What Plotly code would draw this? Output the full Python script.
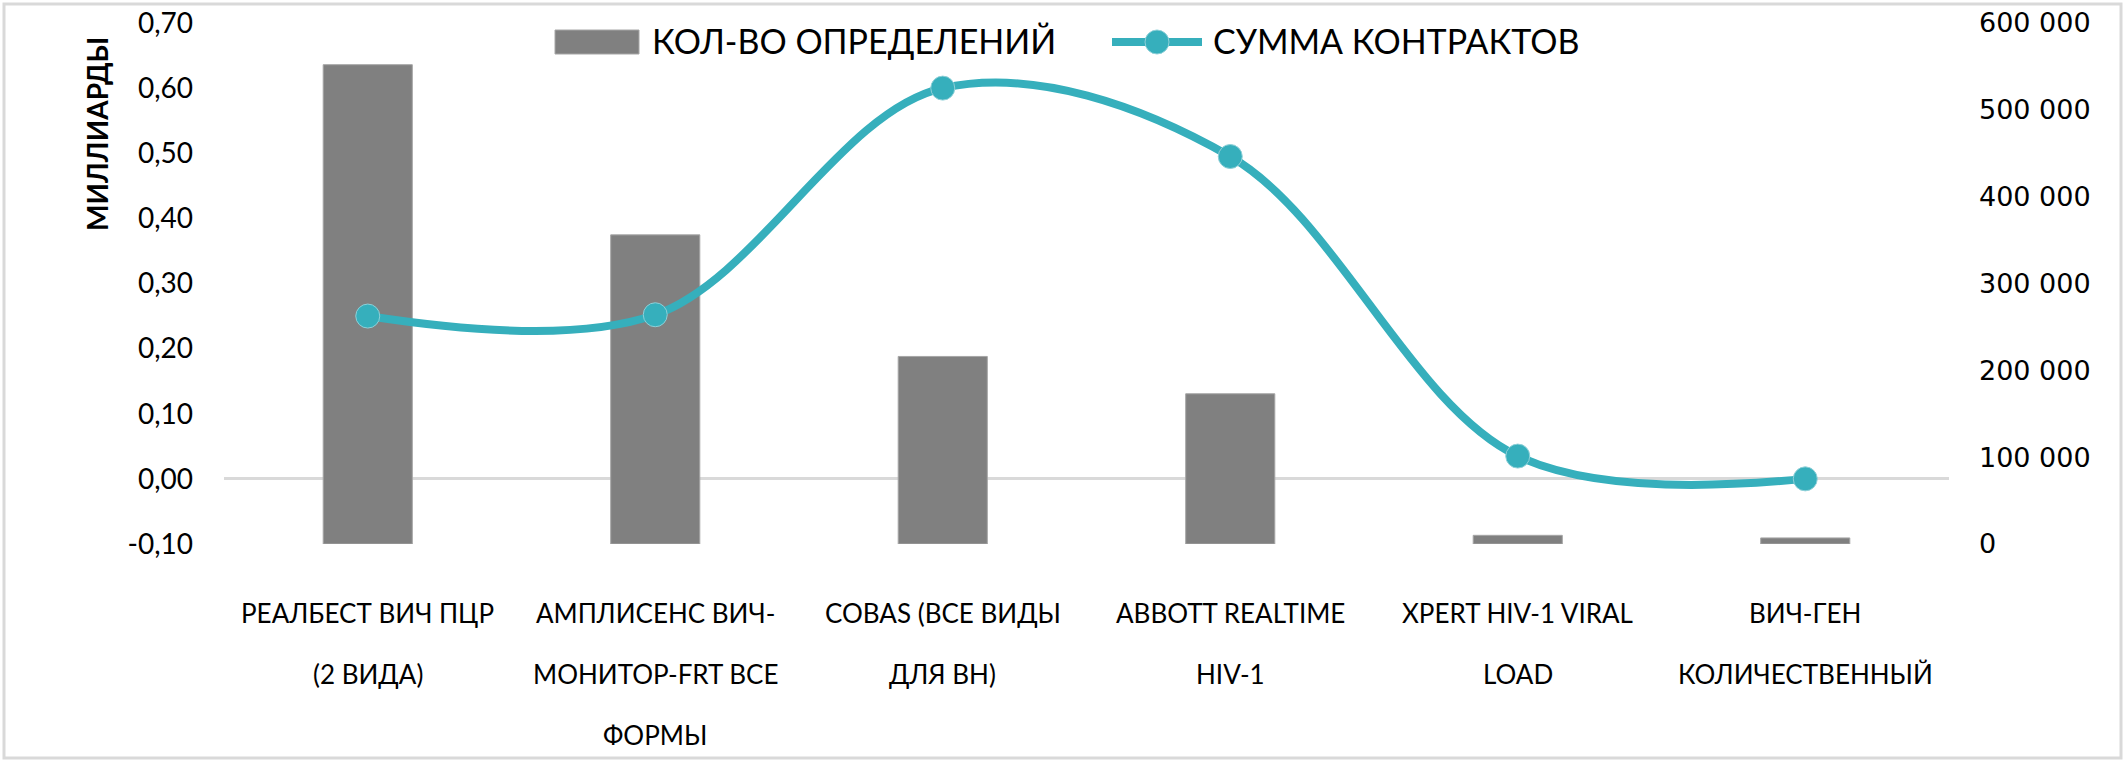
"""
Кол-во определений и сумма контрактов по тест-системам ВИЧ
столбцы - правая ось (шт.), линия - левая ось (миллиарды)
"""
import plotly.graph_objects as go

# данные
categories = [
    "РЕАЛБЕСТ ВИЧ ПЦР (2 ВИДА)",
    "АМПЛИСЕНС ВИЧ-МОНИТОР-FRT ВСЕ ФОРМЫ",
    "COBAS (ВСЕ ВИДЫ ДЛЯ ВН)",
    "ABBOTT REALTIME HIV-1",
    "XPERT HIV-1 VIRAL LOAD",
    "ВИЧ-ГЕН КОЛИЧЕСТВЕННЫЙ",
]
category_lines = [
    ["РЕАЛБЕСТ ВИЧ ПЦР", "(2 ВИДА)"],
    ["АМПЛИСЕНС ВИЧ-", "МОНИТОР-FRT ВСЕ", "ФОРМЫ"],
    ["COBAS (ВСЕ ВИДЫ", "ДЛЯ ВН)"],
    ["ABBOTT REALTIME", "HIV-1"],
    ["XPERT HIV-1 VIRAL", "LOAD"],
    ["ВИЧ-ГЕН", "КОЛИЧЕСТВЕННЫЙ"],
]
count_values = [552000, 356000, 216000, 173000, 10000, 7000]   # кол-во определений
sum_values = [0.25, 0.252, 0.60, 0.495, 0.035, 0.00]           # сумма контрактов, млрд

left_ticks = [-0.1, 0.0, 0.1, 0.2, 0.3, 0.4, 0.5, 0.6, 0.7]
left_tick_text = [("%.2f" % v).replace(".", ",") for v in left_ticks]
right_ticks = [0, 100000, 200000, 300000, 400000, 500000, 600000]
right_tick_text = ["{:,}".format(v).replace(",", " ") for v in right_ticks]

legend_names = ["КОЛ-ВО ОПРЕДЕЛЕНИЙ", "СУММА КОНТРАКТОВ"]

BAR_COLOR = "#808080"
LINE_COLOR = "#36AFBC"
W, H = 2126, 765
ML, MR, MT, MB = 224, 177, 23, 221
PW, PH = W - ML - MR, H - MT - MB


def px_x(x):
    # пиксели -> paper по x
    return (x - ML) / PW


def px_y(y):
    # пиксели -> paper по y
    return (H - MB - y) / PH


fig = go.Figure()

# столбцы на основной оси (справа), чтобы линия рисовалась поверх
fig.add_trace(go.Bar(
    x=categories,
    y=count_values,
    name=legend_names[0],
    marker=dict(color=BAR_COLOR, line=dict(color="#a6a6a6", width=1)),
    width=0.31,
    yaxis="y",
    showlegend=False,
))

fig.add_trace(go.Scatter(
    x=categories,
    y=sum_values,
    name=legend_names[1],
    mode="lines+markers",
    line=dict(color=LINE_COLOR, width=8, shape="spline", smoothing=1.0),
    marker=dict(size=24, color=LINE_COLOR, line=dict(color="#8fd0d8", width=1)),
    yaxis="y2",
    showlegend=False,
))

# подписи категорий (с большим межстрочным интервалом, как в Excel)
annotations = []
for cat, lines in zip(categories, category_lines):
    for i, txt in enumerate(lines):
        annotations.append(dict(
            x=cat, xref="x", y=0, yref="paper",
            yshift=-69 - 61 * i, yanchor="middle",
            text=txt, showarrow=False,
            font=dict(family="Lato, sans-serif", size=26, color="black"),
        ))

# заголовок левой оси
annotations.append(dict(
    x=px_x(97), xref="paper", y=px_y(134), yref="paper",
    text="<b>МИЛЛИАРДЫ</b>", textangle=-90, showarrow=False,
    xanchor="center", yanchor="middle",
    font=dict(family="Lato, sans-serif", size=28, color="black"),
))

# легенда вручную
legend_font = dict(family="Lato, sans-serif", size=34, color="black")
annotations.append(dict(
    x=px_x(650), xref="paper", y=px_y(41), yref="paper",
    text=legend_names[0], showarrow=False, xanchor="left", yanchor="middle",
    font=legend_font,
))
annotations.append(dict(
    x=px_x(1211), xref="paper", y=px_y(41), yref="paper",
    text=legend_names[1], showarrow=False, xanchor="left", yanchor="middle",
    font=legend_font,
))

shapes = [
    # рамка вокруг всей диаграммы
    dict(type="rect", xref="paper", yref="paper",
         x0=px_x(4), x1=px_x(2121), y0=px_y(758), y1=px_y(4),
         line=dict(color="#d9d9d9", width=3), fillcolor="rgba(0,0,0,0)", layer="below"),
    # значок легенды: столбец
    dict(type="rect", xref="paper", yref="paper",
         x0=px_x(555), x1=px_x(639), y0=px_y(54), y1=px_y(30),
         line=dict(color="#a6a6a6", width=1), fillcolor=BAR_COLOR),
    # значок легенды: линия + маркер
    dict(type="line", xref="paper", yref="paper",
         x0=px_x(1112), x1=px_x(1202), y0=px_y(42), y1=px_y(42),
         line=dict(color=LINE_COLOR, width=8)),
    dict(type="circle", xref="paper", yref="paper",
         x0=px_x(1157 - 12), x1=px_x(1157 + 12), y0=px_y(42 + 12), y1=px_y(42 - 12),
         line=dict(color="#8fd0d8", width=1), fillcolor=LINE_COLOR),
]

fig.update_layout(
    width=W,
    height=H,
    margin=dict(l=ML, r=MR, t=MT, b=MB, autoexpand=False),
    paper_bgcolor="white",
    plot_bgcolor="white",
    showlegend=False,
    xaxis=dict(
        showticklabels=False, showgrid=False, zeroline=False,
        showline=False, ticks="", automargin=False,
    ),
    yaxis=dict(
        side="right",
        range=[0, 600000],
        tickvals=right_ticks,
        ticktext=right_tick_text,
        showgrid=False, zeroline=False, showline=False,
        ticklabelstandoff=29,
        automargin=False,
        tickfont=dict(family="DejaVu Sans, sans-serif", size=27, color="black"),
    ),
    yaxis2=dict(
        overlaying="y",
        side="left",
        range=[-0.1, 0.7],
        tickvals=left_ticks,
        ticktext=left_tick_text,
        showgrid=False,
        zeroline=True, zerolinecolor="#d9d9d9", zerolinewidth=3,
        showline=False,
        ticklabelstandoff=30,
        automargin=False,
        tickfont=dict(family="Lato, sans-serif", size=28, color="black"),
    ),
    annotations=annotations,
    shapes=shapes,
)

# убираем стандартный отступ body, чтобы график начинался с (0, 0)
fig.write_html(
    "out.html",
    config={"displayModeBar": False},
    post_script="document.body.style.margin = '0';",
)
